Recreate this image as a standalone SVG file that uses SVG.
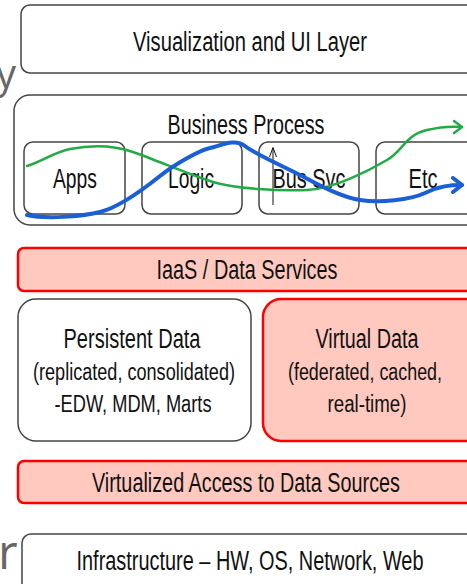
<svg xmlns="http://www.w3.org/2000/svg" width="467" height="584" viewBox="0 0 467 584">
<style>
text{font-family:"Liberation Sans",Arial,sans-serif;fill:#111;text-anchor:middle}
.box{fill:#fff;stroke:#444;stroke-width:1.5}
.red{fill:#ffc9bf;stroke:#ff0000;stroke-width:2.5}
.big{font-size:27px}
.mid{font-size:23px}
.side{font-family:"Open Sans","Liberation Sans",sans-serif;fill:#666;text-anchor:start}
</style>
<defs>
<marker id="ag" markerUnits="userSpaceOnUse" markerWidth="16" markerHeight="16" refX="12" refY="8" orient="auto" viewBox="0 0 16 16">
<polyline points="4,2 12,8 4,14" fill="none" stroke="#22aa44" stroke-width="2.5" stroke-linecap="round" stroke-linejoin="round"/>
</marker>
<marker id="ab" markerUnits="userSpaceOnUse" markerWidth="18" markerHeight="18" refX="13" refY="9" orient="auto" viewBox="0 0 18 18">
<polyline points="4,2 13,9 4,16" fill="none" stroke="#1a5fd6" stroke-width="4" stroke-linecap="round" stroke-linejoin="round"/>
</marker>
</defs>
<text class="side" x="-4" y="88" font-size="40">y</text>
<text class="side" x="-2" y="569" font-size="48">r</text>
<g id="vis">
<rect class="box" x="21" y="5" width="470" height="68" rx="9"/>
<text class="big" x="250" y="51" textLength="234" lengthAdjust="spacingAndGlyphs">Visualization and UI Layer</text>
</g>
<g id="business">
<rect class="box" x="14" y="95" width="470" height="130" rx="16"/>
<text class="big" x="246" y="134" textLength="157" lengthAdjust="spacingAndGlyphs">Business Process</text>
</g>
<g id="apps">
<rect class="box" x="24" y="142" width="101" height="72" rx="9"/>
<text class="big" x="75" y="188" textLength="44" lengthAdjust="spacingAndGlyphs">Apps</text>
</g>
<g id="logic">
<rect class="box" x="142" y="142" width="100" height="72" rx="9"/>
<text class="big" x="191" y="188" textLength="46" lengthAdjust="spacingAndGlyphs">Logic</text>
</g>
<g id="bussvc">
<rect class="box" x="259" y="142" width="100" height="72" rx="9"/>
<text class="big" x="309" y="188" textLength="73" lengthAdjust="spacingAndGlyphs">Bus Svc</text>
<line x1="273" y1="205" x2="273" y2="148" stroke="#111" stroke-width="1"/>
<polyline points="269.5,157 273,147.5 276.5,157" fill="none" stroke="#111" stroke-width="1"/>
</g>
<g id="etc">
<rect class="box" x="376" y="142" width="110" height="72" rx="9"/>
<text class="big" x="423" y="188" textLength="29" lengthAdjust="spacingAndGlyphs">Etc</text>
</g>
<g id="connectors" fill="none" stroke-linecap="round" stroke-linejoin="round">
<path d="M27,166 C40,162 55,152 70,149 S110,144 133,152 S190,175 213,182 S280,191 307,190 S370,170 387,160 S405,135 427,130 S455,127 462,127" stroke="#22aa44" stroke-width="2.5" marker-end="url(#ag)"/>
<path d="M27,215 C45,219 80,217 100,212 S145,188 160,176 S200,150 210,148 S235,138 245,146 S285,167 300,175 S340,197 360,200 S410,200 425,193 S450,185 462,185" stroke="#1a5fd6" stroke-width="4" marker-end="url(#ab)"/>
</g>
<g id="iaas">
<rect class="red" x="18" y="248" width="470" height="43" rx="6"/>
<text class="big" x="247" y="279" textLength="181" lengthAdjust="spacingAndGlyphs">IaaS / Data Services</text>
</g>
<g id="persistent">
<rect class="box" x="18" y="299" width="233" height="142" rx="18"/>
<text class="big" x="132" y="348" textLength="137" lengthAdjust="spacingAndGlyphs">Persistent Data</text>
<text class="mid" x="134" y="380" textLength="202" lengthAdjust="spacingAndGlyphs">(replicated, consolidated)</text>
<text class="mid" x="133" y="412" textLength="157" lengthAdjust="spacingAndGlyphs">-EDW, MDM, Marts</text>
</g>
<g id="virtual">
<rect class="red" x="263" y="299" width="230" height="142" rx="18"/>
<text class="big" x="367" y="348" textLength="103" lengthAdjust="spacingAndGlyphs">Virtual Data</text>
<text class="mid" x="365" y="380" textLength="154" lengthAdjust="spacingAndGlyphs">(federated, cached,</text>
<text class="mid" x="367" y="412" textLength="79" lengthAdjust="spacingAndGlyphs">real-time)</text>
</g>
<g id="access">
<rect class="red" x="18" y="461" width="470" height="42" rx="6"/>
<text class="big" x="246" y="492" textLength="308" lengthAdjust="spacingAndGlyphs">Virtualized Access to Data Sources</text>
</g>
<g id="infra">
<rect class="box" x="22" y="534" width="470" height="70" rx="9"/>
<text class="big" x="250" y="570" textLength="347" lengthAdjust="spacingAndGlyphs">Infrastructure – HW, OS, Network, Web</text>
</g>
</svg>
